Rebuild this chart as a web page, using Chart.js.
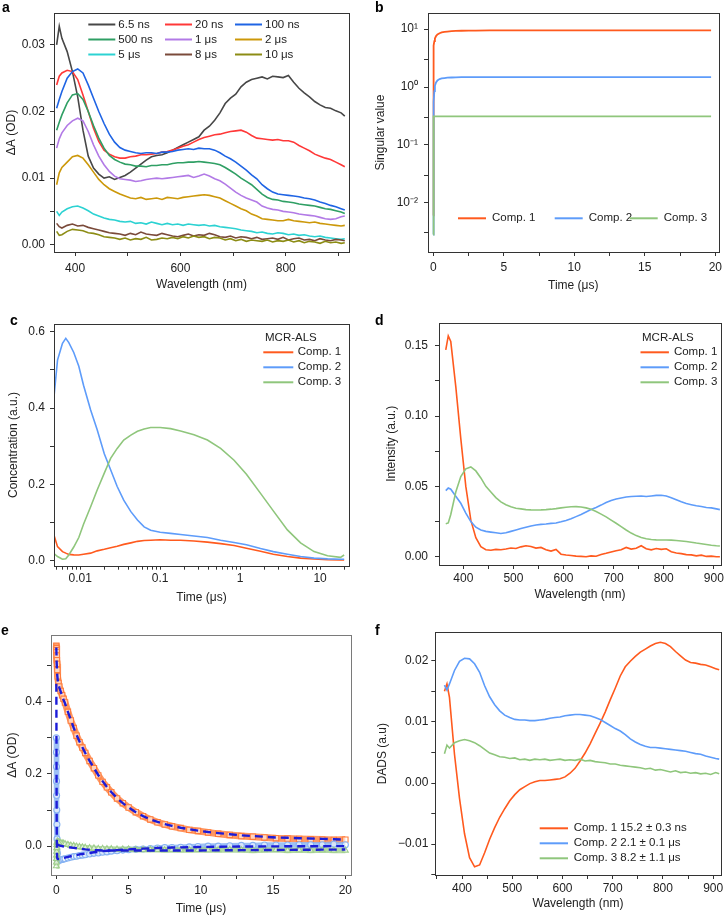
<!DOCTYPE html>
<html>
<head>
<meta charset="utf-8">
<script src="https://cdn.jsdelivr.net/npm/chart.js@4.4.0/dist/chart.umd.min.js"></script>
<style>
  body { margin: 0; background: #fff; }
  #wrap { position: relative; width: 726px; height: 916px; }
  canvas { position: absolute; }
</style>
</head>
<body>
<div id="wrap">
  <canvas id="ca" width="363" height="305" style="left:0;top:0"></canvas>
  <canvas id="cb" width="363" height="305" style="left:363px;top:0"></canvas>
  <canvas id="cc" width="363" height="305" style="left:0;top:305px"></canvas>
  <canvas id="cd" width="363" height="305" style="left:363px;top:305px"></canvas>
  <canvas id="ce" width="363" height="306" style="left:0;top:610px"></canvas>
  <canvas id="cf" width="363" height="306" style="left:363px;top:610px"></canvas>
</div>
<script>
// wavelength grid (nm) shared by panels a, d, f
const wl = [365, 370, 375, 385, 395, 405, 415, 425, 435, 445, 455, 465, 475, 485, 495, 505, 515, 525, 535, 545,
  555, 565, 575, 585, 595, 605, 615, 625, 635, 645, 655, 665, 675, 685, 695, 705, 715, 725, 735, 745,
  755, 765, 775, 785, 795, 805, 815, 825, 835, 845, 855, 865, 875, 885, 895, 905, 912];

// panel a, transient spectra, values in mOD
const aLabels = ['6.5 ns', '20 ns', '100 ns', '500 ns', '1 \u03bcs', '2 \u03bcs', '5 \u03bcs', '8 \u03bcs', '10 \u03bcs'];
const aColors = ['#474747', '#ff3838', '#1f64e4', '#2f9f64', '#b27ae6', '#cc980a', '#2cd2d2', '#7a4a3a', '#8c8c14'];
const a6_5ns = [30.0, 32.8, 31.0, 29.0, 26.0, 22.2, 17.2, 13.3, 11.5, 10.6, 10.0, 10.2, 9.8, 10.1, 10.4, 10.9, 11.5, 12.1, 12.7, 13.2,
  13.4, 13.5, 13.8, 14.2, 14.6, 15.0, 15.4, 15.8, 16.2, 17.2, 17.8, 18.7, 19.8, 21.2, 22.0, 22.6, 23.7, 24.4, 24.8, 25.0,
  25.2, 24.9, 25.3, 25.2, 25.1, 25.4, 24.4, 23.5, 22.8, 22.2, 21.5, 21.0, 20.6, 20.5, 20.1, 19.8, 19.3];
const a20ns = [24.0, 25.3, 25.8, 26.2, 26.0, 24.8, 22.5, 20.0, 17.5, 15.5, 14.2, 13.6, 13.2, 13.0, 13.0, 13.2, 13.3, 13.5, 13.5, 13.6,
  13.7, 13.9, 14.0, 14.2, 14.5, 14.8, 15.0, 15.4, 15.8, 16.1, 16.3, 16.5, 16.6, 16.8, 17.0, 17.1, 17.2, 16.9, 16.4, 16.0,
  15.9, 15.8, 15.7, 15.8, 15.6, 15.6, 15.4, 14.9, 14.5, 14.1, 13.6, 13.3, 13.0, 12.8, 12.4, 12.0, 11.7];
const a100ns = [20.5, 21.8, 23.0, 25.0, 26.0, 26.4, 25.8, 24.0, 22.0, 20.0, 18.2, 16.6, 15.4, 14.6, 14.2, 14.0, 13.8, 13.7, 13.8, 13.8,
  13.7, 13.9, 13.9, 14.0, 14.2, 14.3, 14.4, 14.3, 14.5, 14.4, 14.4, 14.2, 13.8, 13.3, 12.9, 12.4, 11.8, 11.2, 10.5, 9.9,
  9.0, 8.4, 7.9, 7.6, 7.5, 7.4, 7.3, 7.2, 7.0, 6.9, 6.7, 6.4, 6.2, 5.9, 5.7, 5.4, 5.2];
const a500ns = [17.2, 18.4, 19.5, 21.3, 22.5, 22.7, 21.8, 20.0, 17.9, 16.0, 14.5, 13.4, 12.8, 12.4, 12.1, 12.0, 11.8, 11.8, 11.7, 11.9,
  11.9, 12.0, 12.0, 12.2, 12.3, 12.3, 12.4, 12.4, 12.5, 12.4, 12.3, 12.2, 12.0, 11.6, 11.1, 10.6, 10.0, 9.5, 9.0, 8.3,
  7.6, 7.1, 6.8, 6.7, 6.5, 6.4, 6.3, 6.1, 6.0, 5.9, 5.8, 5.6, 5.4, 5.3, 5.1, 4.9, 4.7];
const a1us = [14.5, 15.9, 16.8, 17.9, 18.6, 19.0, 18.6, 17.0, 15.0, 13.3, 12.0, 11.0, 10.3, 9.9, 9.8, 9.7, 9.5, 9.6, 9.8, 9.9,
  10.0, 9.9, 10.0, 10.1, 10.2, 10.3, 10.4, 10.1, 10.3, 10.6, 10.3, 9.9, 9.6, 9.1, 8.5, 7.9, 7.4, 7.0, 6.7, 6.4,
  5.8, 5.5, 5.3, 5.2, 5.0, 4.9, 4.8, 4.6, 4.5, 4.4, 4.3, 4.1, 3.9, 3.8, 3.9, 4.2, 4.3];
const a2us = [9.0, 10.8, 11.6, 12.4, 13.2, 13.4, 13.0, 12.0, 10.9, 9.8, 9.0, 8.4, 8.0, 7.6, 7.3, 7.0, 6.9, 7.1, 6.8, 6.9,
  7.0, 6.8, 7.1, 7.0, 6.9, 7.1, 7.2, 7.3, 7.4, 7.5, 7.4, 7.2, 7.0, 6.6, 6.2, 5.8, 5.4, 5.1, 4.6, 4.3,
  3.9, 3.8, 3.7, 3.6, 3.6, 3.8, 3.6, 3.5, 3.4, 3.3, 3.4, 3.2, 3.1, 3.0, 2.9, 2.8, 2.9];
const a5us = [5.0, 4.4, 4.9, 5.4, 5.7, 5.8, 5.5, 5.1, 4.6, 4.3, 4.0, 3.8, 3.7, 3.5, 3.4, 3.5, 3.2, 3.3, 3.1, 3.4,
  3.2, 3.0, 3.2, 3.0, 3.1, 2.9, 3.1, 3.0, 2.9, 3.0, 2.8, 2.9, 2.7, 2.6, 2.5, 2.4, 2.2, 2.1, 2.0, 1.8,
  1.9, 1.7, 1.6, 1.8, 1.7, 1.5, 1.6, 1.4, 1.5, 1.3, 1.2, 1.3, 1.1, 1.0, 0.9, 0.8, 0.9];
const a8us = [3.2, 2.7, 2.5, 2.9, 3.1, 2.8, 2.9, 2.6, 2.4, 2.2, 2.0, 1.8, 1.7, 1.6, 1.4, 1.7, 1.5, 1.9, 1.6, 1.5,
  1.4, 1.7, 1.5, 1.3, 1.2, 1.4, 1.6, 1.3, 1.5, 1.4, 1.7, 1.5, 1.2, 1.1, 1.3, 1.0, 1.2, 1.1, 0.9, 1.1,
  0.8, 0.9, 1.0, 0.8, 1.1, 0.7, 0.9, 1.0, 0.7, 0.8, 0.6, 0.9, 0.7, 0.6, 0.8, 0.7, 0.6];
const a10us = [2.0, 1.4, 1.5, 2.0, 2.3, 2.2, 2.1, 1.8, 1.7, 1.5, 1.2, 1.1, 1.0, 0.8, 1.0, 0.7, 0.9, 0.8, 1.1, 0.7,
  0.8, 1.0, 0.9, 1.1, 0.9, 1.2, 1.0, 1.3, 1.1, 1.2, 0.9, 1.1, 1.0, 0.7, 0.9, 0.6, 0.8, 0.5, 0.7, 0.6,
  0.5, 0.7, 0.4, 0.6, 0.5, 0.7, 0.4, 0.6, 0.3, 0.5, 0.4, 0.2, 0.5, 0.3, 0.4, 0.2, 0.3];
const aSeries = [a6_5ns, a20ns, a100ns, a500ns, a1us, a2us, a5us, a8us, a10us];

// component names and colours (b, c, d, f)
const compLabels = ['Comp. 1', 'Comp. 2', 'Comp. 3'];
const compColors = ['#ff5a1e', '#5e9cfa', '#8fc67c'];

// panel b, singular values vs time (us)
const bT = [0, 0.01, 0.02, 0.03, 0.05, 0.08, 0.12, 0.2, 0.3, 0.45, 0.6, 0.8, 1.0, 1.3, 1.6, 2.0, 2.5, 3, 4, 5, 7, 10, 13, 16, 19.7];
const bComp1 = [0.006, 0.1, 1.5, 3.5, 5.2, 6.2, 6.9, 7.6, 8.1, 8.5, 8.8, 9.0, 9.1, 9.25, 9.33, 9.4, 9.44, 9.47, 9.5, 9.5, 9.5, 9.5, 9.5, 9.5, 9.5];
const bComp2 = [0.0028, 0.02, 0.3, 0.32, 0.55, 0.85, 1.05, 1.2, 1.3, 1.37, 1.41, 1.43, 1.45, 1.46, 1.47, 1.48, 1.48, 1.48, 1.48, 1.48, 1.48, 1.48, 1.48, 1.48, 1.48];
const bComp3 = [0.0028, 0.01, 0.1, 0.31, 0.31, 0.31, 0.31, 0.31, 0.31, 0.31, 0.31, 0.31, 0.31, 0.31, 0.31, 0.31, 0.31, 0.31, 0.31, 0.31, 0.31, 0.31, 0.31, 0.31, 0.31];

// panel c, MCR-ALS concentrations vs time (us, log axis)
const cT = [0.0047, 0.0052, 0.006, 0.0066, 0.0072, 0.0083, 0.0096, 0.011, 0.0135, 0.0163, 0.02, 0.024, 0.029, 0.035, 0.043, 0.052, 0.063,
  0.076, 0.1, 0.135, 0.18, 0.265, 0.39, 0.57, 0.84, 1.2, 1.8, 2.6, 3.9, 5.7, 8.4, 12.4, 18, 20];
const cComp1 = [0.066, 0.036, 0.023, 0.019, 0.0157, 0.0145, 0.014, 0.016, 0.019, 0.025, 0.029, 0.033, 0.037, 0.042, 0.046, 0.050, 0.052,
  0.053, 0.054, 0.053, 0.053, 0.051, 0.048, 0.044, 0.039, 0.032, 0.024, 0.016, 0.010, 0.006, 0.0035, 0.0015, 0.001, 0.001];
const cComp2 = [0.43, 0.526, 0.57, 0.583, 0.572, 0.546, 0.51, 0.46, 0.395, 0.343, 0.28, 0.238, 0.194, 0.158, 0.128, 0.106, 0.088,
  0.079, 0.074, 0.071, 0.068, 0.064, 0.060, 0.053, 0.047, 0.041, 0.031, 0.023, 0.016, 0.010, 0.006, 0.004, 0.003, 0.003];
const cComp3 = [0.018, 0.010, 0.003, 0.004, 0.014, 0.035, 0.060, 0.095, 0.141, 0.185, 0.229, 0.268, 0.294, 0.316, 0.329, 0.339, 0.345,
  0.349, 0.349, 0.346, 0.340, 0.330, 0.316, 0.294, 0.263, 0.226, 0.176, 0.130, 0.080, 0.046, 0.023, 0.012, 0.008, 0.014];

// panel d, MCR-ALS spectra
const dComp1 = [0.147, 0.157, 0.153, 0.121, 0.084, 0.050, 0.026, 0.0135, 0.0071, 0.0050, 0.0046, 0.0052, 0.0049, 0.0055, 0.0062, 0.0058, 0.0070, 0.0078, 0.0072, 0.0061,
  0.0066, 0.0049, 0.0040, 0.0052, 0.0018, 0.0012, 0.0009, 0.0004, 0.0002, 0.0, 0.0006, 0.0003, 0.0016, 0.0024, 0.0034, 0.0043, 0.0050, 0.0066, 0.0054, 0.0060,
  0.0078, 0.0057, 0.0049, 0.0058, 0.0052, 0.0056, 0.0035, 0.0026, 0.0022, 0.0015, 0.0013, 0.0006, 0.0011, 0.0002, 0.0004, 0.0, 0.0];
const dComp2 = [0.047, 0.0488, 0.048, 0.043, 0.038, 0.031, 0.025, 0.021, 0.019, 0.018, 0.0175, 0.017, 0.0165, 0.017, 0.018, 0.019, 0.020, 0.021, 0.0218, 0.0226,
  0.023, 0.0233, 0.0237, 0.024, 0.0248, 0.0257, 0.027, 0.0285, 0.030, 0.0318, 0.0335, 0.035, 0.0367, 0.0385, 0.040, 0.041, 0.0418, 0.0425, 0.0428, 0.043,
  0.0432, 0.0428, 0.0432, 0.0436, 0.0437, 0.0432, 0.042, 0.0405, 0.039, 0.0378, 0.037, 0.0362, 0.0357, 0.035, 0.0347, 0.034, 0.0335];
const dComp3 = [0.0235, 0.024, 0.030, 0.046, 0.057, 0.0625, 0.0638, 0.061, 0.056, 0.050, 0.046, 0.042, 0.039, 0.037, 0.0355, 0.0345, 0.034, 0.0335, 0.0333, 0.0332,
  0.0333, 0.0335, 0.0338, 0.0342, 0.0347, 0.0352, 0.0355, 0.0356, 0.0353, 0.0347, 0.0337, 0.0322, 0.0303, 0.0283, 0.026, 0.0238, 0.0214, 0.019, 0.0168, 0.015,
  0.0137, 0.0128, 0.0122, 0.012, 0.0119, 0.0119, 0.0118, 0.0115, 0.0112, 0.0108, 0.0103, 0.0097, 0.0092, 0.0087, 0.0082, 0.0078, 0.0076];

// panel e, kinetic traces (us) with fits
const eT = [0, 0.005, 0.01, 0.015, 0.02, 0.03, 0.04, 0.05, 0.07, 0.1, 0.15, 0.2, 0.3, 0.4, 0.5, 0.6, 0.8, 1.0, 1.2, 1.4, 1.6, 1.8, 2.0,
  2.3, 2.6, 2.9, 3.2, 3.5, 3.8, 4.2, 4.6, 5.0, 5.5, 6.0, 6.5, 7.0, 7.5, 8.0, 8.6, 9.2, 9.8, 10.5, 11.2, 12.0, 12.8, 13.6,
  14.4, 15.2, 16.0, 16.8, 17.6, 18.4, 19.2, 20.0];
const eComp1 = [0.555, 0.552, 0.548, 0.543, 0.538, 0.528, 0.515, 0.505, 0.488, 0.47, 0.452, 0.442, 0.43, 0.418, 0.408, 0.398, 0.372, 0.348, 0.327, 0.306, 0.288, 0.273, 0.258,
  0.236, 0.216, 0.196, 0.178, 0.163, 0.149, 0.132, 0.119, 0.107, 0.094, 0.083, 0.074, 0.066, 0.060, 0.055, 0.050, 0.045, 0.042, 0.038, 0.034, 0.031, 0.028, 0.026,
  0.024, 0.022, 0.021, 0.020, 0.019, 0.018, 0.017, 0.018];
const eComp2 = [0.30, 0.26, 0.22, 0.18, 0.14, 0.10, 0.06, 0.02, -0.02, -0.038, -0.040, -0.039, -0.038, -0.037, -0.036, -0.035, -0.033, -0.031, -0.029, -0.028, -0.026, -0.025, -0.024,
  -0.022, -0.020, -0.019, -0.017, -0.016, -0.014, -0.013, -0.011, -0.010, -0.009, -0.008, -0.007, -0.005, -0.004, -0.004, -0.003, -0.002, -0.001, 0.0, 0.0, 0.001, 0.002, 0.002,
  0.003, 0.003, 0.003, 0.004, 0.004, 0.004, 0.005, 0.004];
const eComp3 = [-0.055, -0.045, -0.035, -0.025, -0.015, -0.005, 0.004, 0.010, 0.013, 0.012, 0.011, 0.010, 0.009, 0.008, 0.007, 0.006, 0.004, 0.002, 0.001, -0.001, -0.002, -0.003, -0.004,
  -0.005, -0.006, -0.007, -0.007, -0.008, -0.008, -0.009, -0.009, -0.009, -0.010, -0.010, -0.010, -0.010, -0.011, -0.010, -0.011, -0.011, -0.010, -0.011, -0.011, -0.010, -0.011, -0.012,
  -0.011, -0.010, -0.012, -0.011, -0.012, -0.011, -0.012, -0.012];
const eFit1 = [0.55, 0.54, 0.53, 0.52, 0.51, 0.50, 0.49, 0.48, 0.47, 0.458, 0.448, 0.44, 0.428, 0.416, 0.405, 0.395, 0.372, 0.35, 0.328, 0.308, 0.29, 0.274, 0.258,
  0.236, 0.216, 0.197, 0.18, 0.164, 0.15, 0.133, 0.119, 0.107, 0.094, 0.083, 0.074, 0.067, 0.061, 0.056, 0.051, 0.047, 0.043, 0.039, 0.036, 0.033, 0.030, 0.028,
  0.026, 0.024, 0.023, 0.022, 0.021, 0.020, 0.019, 0.018];
const eFit2 = [0.45, 0.36, 0.27, 0.18, 0.10, 0.03, -0.01, -0.028, -0.035, -0.036, -0.036, -0.036, -0.035, -0.034, -0.033, -0.032, -0.030, -0.028, -0.026, -0.025, -0.023, -0.022, -0.021,
  -0.019, -0.017, -0.016, -0.014, -0.013, -0.012, -0.011, -0.010, -0.009, -0.008, -0.007, -0.006, -0.005, -0.0045, -0.004, -0.0035, -0.003, -0.0025, -0.002, -0.0017, -0.0014, -0.0012, -0.001,
  -0.0008, -0.0006, -0.0005, -0.0004, -0.0003, -0.0002, -0.0001, 0.0];
const eFit3 = [0.004, 0.004, 0.004, 0.004, 0.004, 0.004, 0.004, 0.004, 0.004, 0.003, 0.003, 0.002, 0.001, 0.0, -0.001, -0.002, -0.003, -0.004, -0.005, -0.006, -0.007, -0.008, -0.009,
  -0.010, -0.011, -0.0115, -0.012, -0.012, -0.012, -0.012, -0.012, -0.012, -0.012, -0.012, -0.012, -0.012, -0.012, -0.012, -0.012, -0.012, -0.012, -0.0118, -0.0116, -0.0114, -0.0112, -0.011,
  -0.0108, -0.0106, -0.0104, -0.0102, -0.0100, -0.0098, -0.0096, -0.0095];

// panel f, decay associated spectra
const fLabels = ['Comp. 1 15.2 \u00b1 0.3 ns', 'Comp. 2 2.1 \u00b1 0.1 \u03bcs', 'Comp. 3 8.2 \u00b1 1.1 \u03bcs'];
const fComp1 = [0.0150, 0.0162, 0.0140, 0.0047, -0.0025, -0.0083, -0.0122, -0.0137, -0.0134, -0.0114, -0.0092, -0.0073, -0.0056, -0.0042, -0.0029, -0.0019, -0.0011, -0.0006, -0.0001, 0.0002,
  0.0004, 0.0004, 0.0005, 0.0006, 0.0007, 0.0010, 0.0016, 0.0024, 0.0036, 0.0049, 0.0064, 0.0081, 0.0098, 0.0116, 0.0136, 0.0155, 0.0175, 0.0190, 0.0199, 0.0207,
  0.0214, 0.0219, 0.0224, 0.0228, 0.0230, 0.0228, 0.0223, 0.0215, 0.0208, 0.0201, 0.0197, 0.0196, 0.0194, 0.0193, 0.0190, 0.0187, 0.0185];
const fComp2 = [0.0160, 0.0152, 0.0162, 0.0184, 0.0199, 0.0204, 0.0203, 0.0195, 0.0181, 0.0159, 0.0141, 0.0128, 0.0118, 0.0111, 0.0107, 0.0104, 0.0103, 0.0103, 0.0102, 0.0102,
  0.0103, 0.0104, 0.0106, 0.0107, 0.0108, 0.0110, 0.0111, 0.0112, 0.0112, 0.0111, 0.0110, 0.0107, 0.0104, 0.0099, 0.0094, 0.0089, 0.0085, 0.0079, 0.0072, 0.0067,
  0.0063, 0.0060, 0.0058, 0.0058, 0.0057, 0.0056, 0.0055, 0.0054, 0.0053, 0.0052, 0.0050, 0.0048, 0.0047, 0.0044, 0.0042, 0.0040, 0.0039];
const fComp3 = [0.0048, 0.0062, 0.0057, 0.0066, 0.0069, 0.0071, 0.0069, 0.0066, 0.0061, 0.0055, 0.0049, 0.0046, 0.0043, 0.0042, 0.0040, 0.0041, 0.0038, 0.0039, 0.0037, 0.0039,
  0.0038, 0.0039, 0.0037, 0.0038, 0.0039, 0.0037, 0.0038, 0.0037, 0.0039, 0.0036, 0.0037, 0.0035, 0.0034, 0.0033, 0.0031, 0.0031, 0.0029, 0.0028, 0.0027, 0.0026,
  0.0025, 0.0023, 0.0024, 0.0021, 0.0022, 0.0020, 0.0018, 0.0020, 0.0017, 0.0018, 0.0016, 0.0017, 0.0015, 0.0016, 0.0014, 0.0017, 0.0015];

// ticks and tick labels
const wlTicksA = [400, 500, 600, 700, 800, 900], wlLabsA = ['400', '', '600', '', '800', ''];
const yTicksA = [0, 0.005, 0.01, 0.015, 0.02, 0.025, 0.03], yLabsA = ['0.00', '', '0.01', '', '0.02', '', '0.03'];
const tTicks = [0, 2.5, 5, 7.5, 10, 12.5, 15, 17.5, 20], tLabs = ['0', '', '5', '', '10', '', '15', '', '20'];
const yTicksB = [0.003, 0.01, 0.03, 0.1, 0.3, 1, 3, 10], yLabsB = ['', '10\u207b\u00b2', '', '10\u207b\u00b9', '', '10\u2070', '', '10\u00b9'];
const xTicksC = [0.005, 0.006, 0.007, 0.008, 0.009, 0.01, 0.02, 0.03, 0.04, 0.05, 0.06, 0.07, 0.08, 0.09, 0.1,
  0.2, 0.3, 0.4, 0.5, 0.6, 0.7, 0.8, 0.9, 1, 2, 3, 4, 5, 6, 7, 8, 9, 10, 20];
const xLabsC = xTicksC.map(v => ({0.01: '0.01', 0.1: '0.1', 1: '1', 10: '10'})[v] || '');
const yTicksC = [0, 0.1, 0.2, 0.3, 0.4, 0.5, 0.6], yLabsC = ['0.0', '', '0.2', '', '0.4', '', '0.6'];
const wlTicksD = [400, 450, 500, 550, 600, 650, 700, 750, 800, 850, 900];
const wlLabsD = ['400', '', '500', '', '600', '', '700', '', '800', '', '900'];
const yTicksD = [0, 0.025, 0.05, 0.075, 0.1, 0.125, 0.15], yLabsD = ['0.00', '', '0.05', '', '0.10', '', '0.15'];
const yTicksE = [0, 0.1, 0.2, 0.3, 0.4, 0.5], yLabsE = ['0.0', '', '0.2', '', '0.4', ''];
const wlTicksF = [350, 400, 450, 500, 550, 600, 650, 700, 750, 800, 850, 900];
const wlLabsF = ['', '400', '', '500', '', '600', '', '700', '', '800', '', '900'];
const yTicksF = [-0.015, -0.01, -0.005, 0, 0.005, 0.01, 0.015, 0.02];
const yLabsF = ['', '\u22120.01', '', '0.00', '', '0.01', '', '0.02'];

const FONT = "'Liberation Sans', Arial, Helvetica, sans-serif";
Chart.defaults.font.family = FONT;
Chart.defaults.font.size = 12;
Chart.defaults.color = '#222';
Chart.defaults.animation = false;
Chart.defaults.responsive = false;
Chart.defaults.plugins.legend.display = false;
Chart.defaults.plugins.tooltip.enabled = false;
Chart.defaults.elements.point.radius = 0;
Chart.defaults.elements.line.tension = 0;

function pts(xs, ys, k) {
  return xs.map((x, i) => ({ x: x, y: ys[i] * (k || 1) }));
}

function axis(o) {
  return {
    type: o.type || 'linear',
    min: o.min, max: o.max,
    border: { display: false },
    grid: { drawOnChartArea: false, tickLength: 4, color: '#333', tickColor: '#333' },
    ticks: { autoSkip: false, maxRotation: 0, minRotation: 0, padding: o.pad, color: '#222',
      callback: (v, i) => o.labels[i] },
    title: { display: true, text: o.title, color: '#222', padding: o.tpad },
    afterBuildTicks: s => { s.ticks = o.ticks.map(v => ({ value: v })); },
    afterFit: s => { if (s.isHorizontal()) s.height = o.size; else s.width = o.size; }
  };
}

// frame, panel letter and in-plot legend
const panelDeco = {
  id: 'panelDeco',
  afterDraw(chart, args, o) {
    const ctx = chart.ctx, a = chart.chartArea;
    ctx.save();
    ctx.strokeStyle = o.frame || '#333';
    ctx.lineWidth = 1;
    const l = Math.round(a.left), t = Math.round(a.top);
    ctx.strokeRect(l + 0.5, t + 0.5, Math.round(a.right) - l, Math.round(a.bottom) - t);
    ctx.fillStyle = '#000';
    ctx.textAlign = 'left';
    ctx.textBaseline = 'alphabetic';
    ctx.font = 'bold 14px ' + FONT;
    if (o.tag) ctx.fillText(o.tag, o.tagX, o.tagY);
    const L = o.legend;
    if (L) {
      ctx.font = '11.5px ' + FONT;
      ctx.textBaseline = 'middle';
      ctx.fillStyle = '#222';
      if (L.title) ctx.fillText(L.title, L.titleX, L.titleY);
      chart.data.datasets.forEach((ds, i) => {
        const x = L.xs[i % L.xs.length], y = L.ys[Math.floor(i / L.xs.length)];
        ctx.strokeStyle = ds.borderColor;
        ctx.lineWidth = 2;
        ctx.beginPath(); ctx.moveTo(x, y); ctx.lineTo(x + L.len, y); ctx.stroke();
        ctx.fillStyle = '#222';
        ctx.fillText(ds.label, x + L.len + L.gap, y);
      });
    }
    ctx.restore();
  }
};
Chart.register(panelDeco);

function lineSets(xs, series, labels, colors, width, k) {
  return series.map((s, i) => ({
    label: labels[i], data: pts(xs, s, k), borderColor: colors[i], backgroundColor: colors[i],
    borderWidth: width, order: series.length - i
  }));
}

// a
new Chart(document.getElementById('ca'), {
  type: 'line',
  data: { datasets: lineSets(wl, aSeries, aLabels, aColors, 1.6, 0.001) },
  options: {
    layout: { padding: { left: 0, top: 13, right: 14, bottom: 0 } },
    scales: {
      x: axis({ min: 360, max: 920, ticks: wlTicksA, labels: wlLabsA, title: 'Wavelength (nm)', size: 53, pad: 5, tpad: { top: 0, bottom: 12.8 } }),
      y: axis({ min: -0.0011, max: 0.0348, ticks: yTicksA, labels: yLabsA, title: '\u0394A (OD)', size: 54, pad: 5, tpad: { top: 4.5, bottom: 0 } })
    },
    plugins: { panelDeco: { tag: 'a', tagX: 2, tagY: 12,
      legend: { xs: [88.3, 165, 235], ys: [24.5, 39.5, 54.5], len: 27, gap: 3 } } }
  }
});

// b
new Chart(document.getElementById('cb'), {
  type: 'line',
  data: { datasets: lineSets(bT, [bComp1, bComp2, bComp3], compLabels, compColors, 1.8) },
  options: {
    layout: { padding: { left: 0, top: 13, right: 1, bottom: 0 } },
    scales: {
      x: axis({ min: -0.37, max: 20.23, ticks: tTicks, labels: tLabs, title: 'Time (\u03bcs)', size: 53, pad: 4, tpad: { top: 0, bottom: 11.8 } }),
      y: axis({ type: 'logarithmic', min: 0.0014, max: 18.9, ticks: yTicksB, labels: yLabsB, title: 'Singular value', size: 65, pad: 6, tpad: { top: 10, bottom: 0 } })
    },
    plugins: { panelDeco: { tag: 'b', tagX: 12, tagY: 12,
      legend: { xs: [95, 191.7, 266.7], ys: [218.3], len: 28, gap: 6 } } }
  }
});

// c
new Chart(document.getElementById('cc'), {
  type: 'line',
  data: { datasets: lineSets(cT, [cComp1, cComp2, cComp3], compLabels, compColors, 1.6) },
  options: {
    layout: { padding: { left: 0, top: 19.3, right: 14, bottom: 0 } },
    scales: {
      x: axis({ type: 'logarithmic', min: 0.0047, max: 23, ticks: xTicksC, labels: xLabsC, title: 'Time (\u03bcs)', size: 44.3, pad: 2, tpad: { top: 0, bottom: 5 } }),
      y: axis({ min: -0.014, max: 0.62, ticks: yTicksC, labels: yLabsC, title: 'Concentration (a.u.)', size: 54, pad: 5, tpad: { top: 6, bottom: 0 } })
    },
    plugins: { panelDeco: { tag: 'c', tagX: 10, tagY: 20,
      legend: { title: 'MCR-ALS', titleX: 265, titleY: 33.3, xs: [263.3], ys: [47.3, 62.3, 77.3], len: 30, gap: 4.5 } } }
  }
});

// d
new Chart(document.getElementById('cd'), {
  type: 'line',
  data: { datasets: lineSets(wl, [dComp1, dComp2, dComp3], compLabels, compColors, 1.6) },
  options: {
    layout: { padding: { left: 0, top: 17.7, right: 5, bottom: 0 } },
    scales: {
      x: axis({ min: 351.5, max: 914, ticks: wlTicksD, labels: wlLabsD, title: 'Wavelength (nm)', size: 45, pad: 2, tpad: { top: 0, bottom: 8.5 } }),
      y: axis({ min: -0.0059, max: 0.1664, ticks: yTicksD, labels: yLabsD, title: 'Intensity (a.u.)', size: 76, pad: 7, tpad: { top: 21, bottom: 0 } })
    },
    plugins: { panelDeco: { tag: 'd', tagX: 12, tagY: 20,
      legend: { title: 'MCR-ALS', titleX: 279, titleY: 33.3, xs: [277.5], ys: [47.3, 62.3, 77.3], len: 28.4, gap: 5 } } }
  }
});

// e: thick translucent trace plus open markers for each kinetic, dashed fits on top
function traceSet(ys, style, radius, rgb, width, order) {
  return {
    data: pts(eT, ys), showLine: true, borderWidth: width, borderColor: 'rgba(' + rgb + ',0.8)',
    pointStyle: style, pointRadius: radius, pointBorderColor: 'rgb(' + rgb + ')', pointBorderWidth: 1.1,
    pointBackgroundColor: 'rgba(255,255,255,0.6)', order: order
  };
}
const fitStyle = { type: 'line', showLine: true, borderColor: '#1c1cd8', borderWidth: 2.4, borderDash: [8, 5], pointRadius: 0, order: 0 };
new Chart(document.getElementById('ce'), {
  type: 'scatter',
  data: { datasets: [
    traceSet(eComp1, 'rect', 3.8, '255,125,60', 7, 3),
    traceSet(eComp2, 'circle', 3, '134,178,242', 5.5, 2),
    traceSet(eComp3, 'triangle', 3.4, '159,206,140', 5.5, 1),
    Object.assign({ data: pts(eT, eFit1) }, fitStyle),
    Object.assign({ data: pts(eT, eFit2) }, fitStyle),
    Object.assign({ data: pts(eT, eFit3) }, fitStyle)
  ] },
  options: {
    layout: { padding: { left: 0, top: 25.3, right: 12, bottom: 0 } },
    scales: {
      x: axis({ min: -0.37, max: 20.39, ticks: tTicks, labels: tLabs, title: 'Time (\u03bcs)', size: 41, pad: 4, tpad: { top: 0, bottom: 0 } }),
      y: axis({ min: -0.08, max: 0.584, ticks: yTicksE, labels: yLabsE, title: '\u0394A (OD)', size: 51, pad: 5, tpad: { top: 5, bottom: 0 } })
    },
    plugins: { panelDeco: { tag: 'e', tagX: 1, tagY: 25, frame: '#7a7a7a' } }
  }
});

// f
new Chart(document.getElementById('cf'), {
  type: 'line',
  data: { datasets: lineSets(wl, [fComp1, fComp2, fComp3], fLabels, compColors, 1.6) },
  options: {
    layout: { padding: { left: 0, top: 22.3, right: 5.3, bottom: 0 } },
    scales: {
      x: axis({ min: 346.8, max: 915, ticks: wlTicksF, labels: wlLabsF, title: 'Wavelength (nm)', size: 41, pad: 2.6, tpad: { top: 0, bottom: 5.5 } }),
      y: axis({ min: -0.01504, max: 0.02464, ticks: yTicksF, labels: yLabsF, title: 'DADS (a.u)', size: 72.3, pad: 3, tpad: { top: 12.8, bottom: 0 } })
    },
    plugins: { panelDeco: { tag: 'f', tagX: 12, tagY: 25,
      legend: { xs: [176.7], ys: [218.3, 233.3, 248.3], len: 28.3, gap: 5.7 } } }
  }
});
</script>
</body>
</html>
